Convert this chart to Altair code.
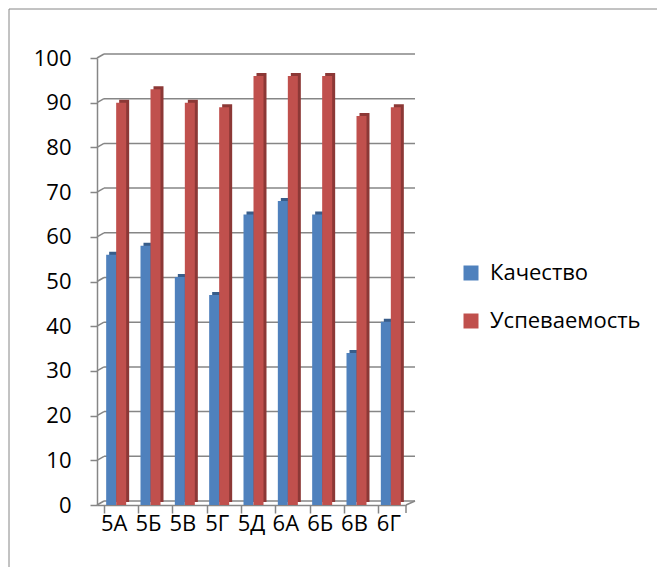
import altair as alt
import pandas as pd

classes = ["5А", "5Б", "5В", "5Г", "5Д", "6А", "6Б", "6В", "6Г"]
quality = [56, 58, 51, 47, 65, 68, 65, 34, 41]
success = [90, 93, 90, 89, 96, 96, 96, 87, 89]
series = ["Качество", "Успеваемость"]
front_colors = ["#4F81BD", "#C0504D"]
side_colors = ["#385D8A", "#8C3836"]
grid_values = [0, 10, 20, 30, 40, 50, 60, 70, 80, 90, 100]

rows = []
for c, q, s in zip(classes, quality, success):
    rows.append({"cls": c, "series": series[0], "value": q})
    rows.append({"cls": c, "series": series[1], "value": s})
df = pd.DataFrame(rows)
grid_df = pd.DataFrame({"v": grid_values})

W, H = 309, 447
FONT = "Open Sans"
GRAY = "#868686"
BAR_W = 10

xscale = alt.Scale(domain=classes, paddingInner=0.42, paddingOuter=0.21)
yscale = alt.Scale(domain=[0, 100], nice=False)

x_axis = alt.Axis(title=None, labelAngle=0, bandPosition=0, tickSize=8,
                  labelFontSize=22, labelFont=FONT, labelColor="#000000",
                  domainColor=GRAY, tickColor=GRAY, domainWidth=1.5, tickWidth=1.5,
                  labelPadding=0)
y_axis = alt.Axis(title=None, values=grid_values, grid=False, tickSize=7,
                  labelFontSize=22, labelFont=FONT, labelColor="#000000",
                  domainColor=GRAY, tickColor=GRAY, domainWidth=1.5, tickWidth=1.5,
                  labelPadding=19)

X = alt.X("cls:N", scale=xscale, sort=classes, axis=x_axis)
Y = alt.Y("value:Q", scale=yscale, axis=y_axis)

legend = alt.Legend(title=None, orient="none", legendX=363, legendY=204, padding=0,
                    symbolType="square", symbolSize=225, symbolStrokeWidth=0,
                    labelFontSize=22, labelFont=FONT, labelColor="#000000",
                    rowPadding=26, labelOffset=8)
COLOR = alt.Color("series:N", scale=alt.Scale(domain=series, range=front_colors), legend=legend)

base = alt.Chart(df)
bar_layers = []
for i, name in enumerate(series):
    shift = -5 + 10 * i + 2
    sub = base.transform_filter(alt.datum.series == name)
    side = sub.mark_bar(width=BAR_W, xOffset=shift + 3, yOffset=-3, y2Offset=-3,
                        color=side_colors[i]).encode(x=X, y=Y)
    front = sub.mark_bar(width=BAR_W, xOffset=shift).encode(x=X, y=Y, color=COLOR)
    bar_layers += [side, front]

GY = alt.Y("v:Q", scale=yscale, axis=y_axis)

gridlines = alt.Chart(grid_df).mark_rule(color=GRAY, strokeWidth=1.5, yOffset=-4).encode(
    x=alt.value(7), x2=alt.value(318), y=GY
)
diagonals = alt.Chart(grid_df).mark_rule(color=GRAY, strokeWidth=1.5, y2Offset=-4).encode(
    x=alt.value(0), x2=alt.value(7), y=GY, y2="v:Q"
)
floor_right = alt.Chart(pd.DataFrame({"v": [0]})).mark_rule(color=GRAY, strokeWidth=1.5, y2Offset=-4).encode(
    x=alt.value(W), x2=alt.value(318), y=GY, y2="v:Q"
)
last_tick = alt.Chart(pd.DataFrame({"v": [0]})).mark_rule(color=GRAY, strokeWidth=1.5).encode(
    x=alt.value(W), y=alt.value(H), y2=alt.value(H + 8)
)
frame_df = pd.DataFrame({"v": [0]})
border_top = alt.Chart(frame_df).mark_rule(color=GRAY, strokeWidth=1).encode(
    x=alt.value(-88), x2=alt.value(800), y=alt.value(-49)
)
border_left = alt.Chart(frame_df).mark_rule(color=GRAY, strokeWidth=1).encode(
    x=alt.value(-88), y=alt.value(-49), y2=alt.value(800)
)

chart = alt.layer(border_top, border_left, gridlines, diagonals, floor_right, last_tick,
                  *bar_layers).properties(
    width=W, height=H,
    autosize=alt.AutoSizeParams(type="none"),
    padding={"left": 89, "top": 50, "right": 251, "bottom": 62},
    background="#ffffff",
).configure_view(stroke=None)

chart.save("out.html", embed_options={"renderer": "svg", "actions": False})
